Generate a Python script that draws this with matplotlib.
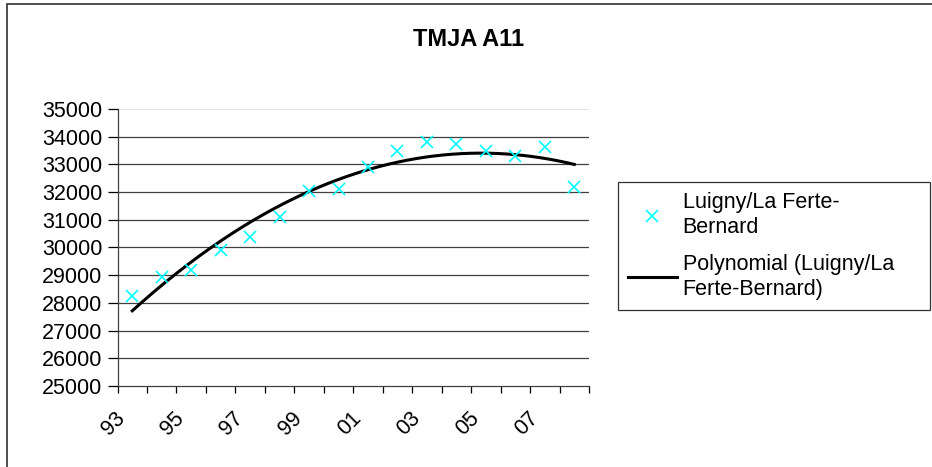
import matplotlib
matplotlib.use('Agg')
import matplotlib.pyplot as plt
import matplotlib.transforms as mtransforms
from matplotlib.lines import Line2D
from matplotlib.patches import Rectangle
import numpy as np

plt.rcParams['font.family'] = ['Liberation Sans', 'DejaVu Sans']

years = ['93', '94', '95', '96', '97', '98', '99', '00',
         '01', '02', '03', '04', '05', '06', '07', '08']
tmja = [28250, 28950, 29200, 29900, 30370, 31100, 32050, 32100,
        32900, 33500, 33800, 33750, 33480, 33300, 33620, 32200]
shown_labels = ['93', '95', '97', '99', '01', '03', '05', '07']
series_name = 'Luigny/La Ferte-\nBernard'
trend_name = 'Polynomial (Luigny/La\nFerte-Bernard)'

FS = 15.5
W, H = 932, 467
fig = plt.figure(figsize=(W / 100, H / 100), dpi=100)
ax = fig.add_axes([117.5 / W, 1 - 386 / H, (589 - 117.5) / W, (386 - 109) / H])

xc = np.arange(len(years)) + 0.5
ax.plot(xc, tmja, linestyle='none', marker='x', color='#00ffff',
        markersize=9, markeredgewidth=1.2, zorder=3)

# order 2 polynomial trend, like the Excel trendline
coef = np.polyfit(np.arange(1, len(years) + 1), tmja, 2)
xs = np.linspace(1, len(years), 200)
ax.plot(xs - 0.5, np.polyval(coef, xs), color='black', linewidth=2.2, zorder=2)

ax.set_xlim(0, len(years))
ax.set_ylim(25000, 35000)
ax.set_yticks(np.arange(25000, 35001, 1000))
for v in np.arange(26000, 34001, 1000):
    ax.axhline(v, color='#404040', linewidth=0.9, zorder=1)
ax.axhline(35000, color='#e6e6e6', linewidth=0.9, zorder=1)

ax.set_xticks(np.arange(0, len(years) + 1), minor=True)
ax.tick_params(axis='x', which='minor', length=5, width=0.9, direction='out')
lab_pos = [xc[years.index(l)] for l in shown_labels]
ax.set_xticks(lab_pos)
ax.set_xticklabels(shown_labels, rotation=45, ha='right', va='center',
                   rotation_mode='anchor', fontsize=FS)
ax.tick_params(axis='x', which='major', length=0, pad=21)
off = mtransforms.ScaledTranslation(-0.1, 0, fig.dpi_scale_trans)
for lbl in ax.get_xticklabels():
    lbl.set_transform(lbl.get_transform() + off)
ax.tick_params(axis='y', length=7, width=0.9, labelsize=FS, pad=4)

for side in ['top', 'right']:
    ax.spines[side].set_visible(False)
for side in ['left', 'bottom']:
    ax.spines[side].set_linewidth(0.9)
    ax.spines[side].set_color('#404040')

fig.text(469 / W, 1 - 39 / H, 'TMJA A11', ha='center', va='center',
         fontsize=17, fontweight='bold')

handles = [Line2D([], [], linestyle='none', marker='x', color='#00ffff',
                  markersize=9, markeredgewidth=1.2),
           Line2D([], [], color='black', linewidth=2.2)]
leg = fig.legend(handles, [series_name, trend_name], loc='upper left',
                 bbox_to_anchor=(618 / W, 1 - 182 / H - 0.01, (930 - 618) / W, 0.01),
                 mode='expand', fontsize=FS,
                 frameon=True, fancybox=False, handlelength=2.3,
                 handletextpad=0.25, borderpad=0.45, borderaxespad=0,
                 labelspacing=0.7)
for t in leg.get_texts():
    t.set_linespacing(1.3)
leg.get_frame().set_edgecolor('black')
leg.get_frame().set_linewidth(0.9)

fig.patches.append(Rectangle((6.5 / W, -0.1), 1.2, 1.1 - 3.5 / H, transform=fig.transFigure,
                             fill=False, edgecolor='#303030', linewidth=1.2))

fig.savefig('out.png', dpi=100)
